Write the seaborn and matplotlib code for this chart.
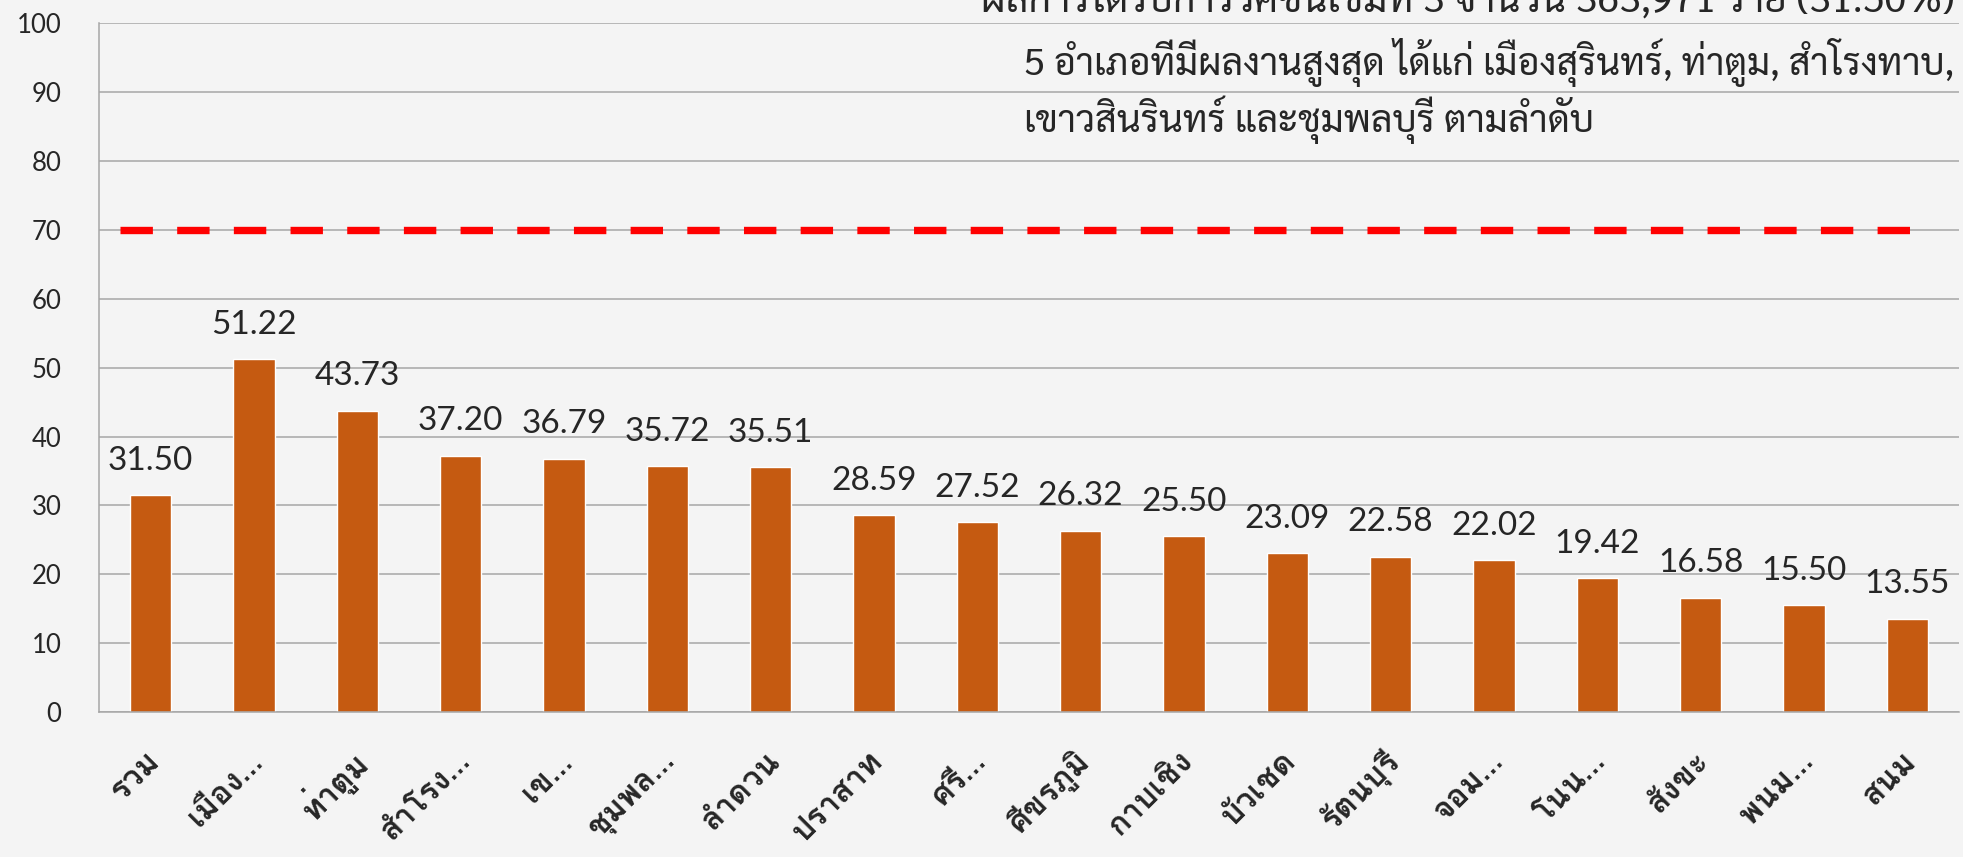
import matplotlib
matplotlib.use("Agg")
import matplotlib.pyplot as plt
import matplotlib.transforms as mtransforms
import seaborn as sns

# ข้อมูล
districts = ["รวม", "เมือง…", "ท่าตูม", "สำโรง…", "เข…", "ชุมพล…", "ลำดวน", "ปราสาท",
             "ศรี…", "ศีขรภูมิ", "กาบเชิง", "บัวเชด", "รัตนบุรี", "จอม…", "โนน…",
             "สังขะ", "พนม…", "สนม"]
coverage = [31.50, 51.22, 43.73, 37.20, 36.79, 35.72, 35.51, 28.59, 27.52, 26.32,
            25.50, 23.09, 22.58, 22.02, 19.42, 16.58, 15.50, 13.55]
target = 70
y_ticks = list(range(0, 101, 10))

title_text = "ผลการได้รับการวัคซีนเข็มที่ 3 จำนวน 363,971 ราย (31.50%)"
note_lines = ["5 อำเภอที่มีผลงานสูงสุด ได้แก่ เมืองสุรินทร์, ท่าตูม, สำโรงทาบ,",
              "เขาวสินรินทร์ และชุมพลบุรี ตามลำดับ"]

BAR_COLOR = "#c55a11"
GRID_COLOR = "#a6a6a6"
NUM_FONT = ["Lato", "DejaVu Sans"]
THAI_FONT = ["Loma", "Noto Sans Thai Looped", "DejaVu Sans"]
NOTE_FONT = ["Sarabun", "Loma", "DejaVu Sans"]


def fit_width(fig, txt, width_px):
    """Ajuster la taille d'un texte pour qu'il occupe la largeur voulue."""
    renderer = fig.canvas.get_renderer()
    w = txt.get_window_extent(renderer).width
    txt.set_fontsize(txt.get_fontsize() * width_px / w)


sns.set_style("white")
plt.rcParams["font.family"] = THAI_FONT

fig = plt.figure(figsize=(19.63, 8.57), dpi=100, facecolor="#f4f4f4")
ax = fig.add_axes([99 / 1963, 1 - 712 / 857, 1860 / 1963, 688.6 / 857])
ax.set_facecolor("none")

sns.barplot(x=districts, y=coverage, color=BAR_COLOR, saturation=1, width=0.4, ax=ax)

ax.axhline(target, xmin=0.0113, xmax=0.978, color="#ff0000", lw=5.3,
           dashes=(4.4, 3.3), dash_capstyle="butt", zorder=3)

ax.set_ylim(0, 100)
ax.set_xlim(-0.5, len(districts) - 0.5)
ax.set_yticks(y_ticks)
ax.yaxis.grid(True, color=GRID_COLOR, lw=1.1)
ax.set_axisbelow(True)
for side in ["top", "right"]:
    ax.spines[side].set_visible(False)
for side in ["left", "bottom"]:
    ax.spines[side].set_color(GRID_COLOR)
    ax.spines[side].set_linewidth(1.1)

ax.tick_params(axis="y", length=9, width=1.1, color=GRID_COLOR, pad=18, labelsize=18.5)
for lab in ax.get_yticklabels():
    lab.set_family(NUM_FONT)

# séparateurs entre catégories
ax.set_xticks([i - 0.5 for i in range(len(districts) + 1)], minor=True)
ax.tick_params(axis="x", which="minor", length=11, width=1.1, color=GRID_COLOR)
ax.tick_params(axis="x", which="major", length=0, pad=32, labelsize=23)
ax.set_xticks(range(len(districts)))
ax.set_xticklabels(districts, rotation=45, ha="right", va="center",
                   rotation_mode="anchor", fontweight="bold")
offset = mtransforms.ScaledTranslation(4 / 100, 0.0, fig.dpi_scale_trans)
for lab in ax.get_xticklabels():
    lab.set_transform(lab.get_transform() + offset)
ax.set_xlabel("")
ax.set_ylabel("")

ax.bar_label(ax.containers[0], fmt="%.2f", padding=14, fontsize=24, family=NUM_FONT)

title = fig.text(1955 / 1963, 1 - 12 / 857, title_text, ha="right", va="baseline",
                 fontsize=26, family=NOTE_FONT)
note1 = fig.text(1024 / 1963, 1 - 75 / 857, note_lines[0], ha="left", va="baseline",
                 fontsize=22, family=NOTE_FONT)
note2 = fig.text(1024 / 1963, 1 - 132 / 857, note_lines[1], ha="left", va="baseline",
                 fontsize=22, family=NOTE_FONT)
fit_width(fig, title, 975)
fit_width(fig, note1, 931)
note2.set_fontsize(note1.get_fontsize())

fig.savefig("out.png", dpi=100, facecolor=fig.get_facecolor())
